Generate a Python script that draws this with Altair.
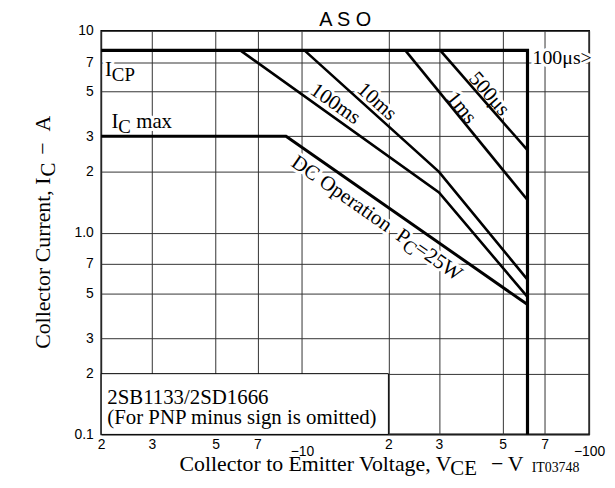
import altair as alt
import pandas as pd

# ---------------- data ----------------
# Boundary lines
V_ICP = [2, 61, 61]
I_ICP = [8, 8, 0.1]
V_DC = [2, 8.8, 61]
I_DC = [3, 3, 0.44]
# Pulse curves
V_100MS = [6.1, 30, 61]
I_100MS = [8, 1.58, 0.48]
V_10MS = [10.2, 30, 61]
I_10MS = [8, 2.0, 0.585]
V_1MS = [22.9, 61]
I_1MS = [8, 1.45]
V_500US = [30.3, 61]
I_500US = [8, 2.56]

X_TICKS = [2, 3, 5, 7, 10, 20, 30, 50, 70, 100]
X_TICK_LABELS = ["2", "3", "5", "7", "−10", "2", "3", "5", "7", "−100"]
Y_TICKS = [0.1, 0.2, 0.3, 0.5, 0.7, 1, 2, 3, 5, 7, 10]
Y_TICK_LABELS = ["0.1", "2", "3", "5", "7", "1.0", "2", "3", "5", "7", "10"]

# curve labels (rotated, centred)
CURVE_LABELS = ["100ms", "10ms", "1ms", "500μs"]
CURVE_LABEL_V = [13.06, 18.2, 35.9, 44.8]
CURVE_LABEL_I = [4.33, 4.45, 4.15, 4.85]
CURVE_LABEL_ANGLE = [35, 42, 51, 49]

# box
BOX_V = [2]
BOX_V2 = [20]
BOX_I = [0.1]
BOX_I2 = [0.2]

SERIF = "Liberation Serif"
SANS = "Liberation Sans"
FS = 21
NB = "\u00a0"

# ---------------- build tables ----------------
rows = []
for name, vs, cs, w in [
    ("ICP", V_ICP, I_ICP, 3.2),
    ("DC", V_DC, I_DC, 3.0),
    ("100ms", V_100MS, I_100MS, 2.6),
    ("10ms", V_10MS, I_10MS, 2.6),
    ("1ms", V_1MS, I_1MS, 2.6),
    ("500us", V_500US, I_500US, 2.6),
]:
    for k, (v, c) in enumerate(zip(vs, cs)):
        rows.append({"curve": name, "ord": k, "V": v, "I": c, "w": w})
lines_df = pd.DataFrame(rows)

def label_expr(vals, labs, lower=()):
    e = "''"
    for v, l in reversed(list(zip(vals, labs))):
        lab = f"['', '{l}']" if v in lower else f"'{l}'"
        e = f"datum.value == {v} ? {lab} : ({e})"
    return e

xscale = alt.Scale(type="log", domain=[2, 100], nice=False)
yscale = alt.Scale(type="log", domain=[0.1, 10], nice=False)

xaxis = alt.Axis(
    values=X_TICKS, labelExpr=label_expr(X_TICKS, X_TICK_LABELS, lower=(10, 100)), title=None,
    grid=True, gridColor="#333333", gridWidth=1, gridOpacity=1,
    ticks=False, domain=False, labelOverlap=False, labelFlush=False,
    labelPadding=3, labelLineHeight=7, labelFont=SANS, labelFontSize=14, labelColor="black",
)
yaxis = alt.Axis(
    values=Y_TICKS, labelExpr=label_expr(Y_TICKS, Y_TICK_LABELS), title=None,
    grid=True, gridColor="#333333", gridWidth=1, gridOpacity=1,
    ticks=False, domain=False, labelOverlap=False, labelPadding=8,
    labelFont=SANS, labelFontSize=14, labelColor="black",
)

X = alt.X("V:Q", scale=xscale, axis=xaxis)
Y = alt.Y("I:Q", scale=yscale, axis=yaxis)

lines = alt.Chart(lines_df).mark_line(color="black", strokeJoin="miter", strokeCap="butt").encode(
    x=X, y=Y, detail="curve:N", order="ord:Q",
    strokeWidth=alt.StrokeWidth("w:Q", scale=None, legend=None),
)

box = alt.Chart(pd.DataFrame({"V": BOX_V, "V2": BOX_V2, "I": BOX_I, "I2": BOX_I2})).mark_rect(
    fill="white", stroke="black", strokeWidth=1
).encode(x=X, x2="V2:Q", y=Y, y2="I2:Q")

cl_df = pd.DataFrame({"t": CURVE_LABELS, "V": CURVE_LABEL_V, "I": CURVE_LABEL_I, "a": CURVE_LABEL_ANGLE})

def text_layers(df, halo=True, **kw):
    enc = dict(x=X, y=Y, text="t:N")
    if "a" in df.columns:
        enc["angle"] = alt.Angle("a:Q", scale=None)
    base = alt.Chart(df)
    out = []
    if halo:
        out.append(base.mark_text(stroke="white", strokeWidth=6, strokeJoin="round", fill="white", **kw).encode(**enc))
    top = base.mark_text(color="black", **kw).encode(**enc)
    return out, top

halos = []
tops = []

def add(df, **kw):
    h, t = text_layers(df, **kw)
    halos.extend(h)
    tops.append(t)

add(cl_df, font=SERIF, fontSize=FS, align="center", baseline="middle")

# DC Operation  P_C=25W (rotated, pieces along the line)
DC_V, DC_I, DC_A = 17.8, 1.2, 35
add(pd.DataFrame({"t": ["DC Operation" + NB + NB + "P"], "V": [DC_V], "I": [DC_I], "a": [DC_A]}),
    font=SERIF, fontSize=FS, align="left", baseline="middle", dx=-99, dy=0)
add(pd.DataFrame({"t": ["C"], "V": [DC_V], "I": [DC_I], "a": [DC_A]}),
    font=SERIF, fontSize=FS - 2, align="left", baseline="middle", dx=41, dy=5)
add(pd.DataFrame({"t": ["=25W"], "V": [DC_V], "I": [DC_I], "a": [DC_A]}),
    font=SERIF, fontSize=FS, align="left", baseline="middle", dx=53, dy=0)

# I_CP
add(pd.DataFrame({"t": ["I"], "V": [2.06], "I": [5.94]}), font=SERIF, fontSize=FS, align="left", baseline="alphabetic")
add(pd.DataFrame({"t": ["CP"], "V": [2.06], "I": [5.94]}), font=SERIF, fontSize=FS - 2, align="left", baseline="alphabetic", dx=7, dy=5)
# I_C max
add(pd.DataFrame({"t": ["I"], "V": [2.17], "I": [3.30]}), font=SERIF, fontSize=FS, align="left", baseline="alphabetic")
add(pd.DataFrame({"t": ["C"], "V": [2.17], "I": [3.30]}), font=SERIF, fontSize=FS - 2, align="left", baseline="alphabetic", dx=7, dy=5)
add(pd.DataFrame({"t": ["max"], "V": [2.17], "I": [3.30]}), font=SERIF, fontSize=FS, align="left", baseline="alphabetic", dx=25)
# 100us>
add(pd.DataFrame({"t": ["100μs>"], "V": [63.5], "I": [6.81]}), font=SERIF, fontSize=FS - 1, align="left", baseline="alphabetic")
# box text
add(pd.DataFrame({"t": ["2SB1133/2SD1666", "(For PNP minus sign is omitted)"], "V": [2.1, 2.1], "I": [0.142, 0.112]}),
    halo=False, font=SERIF, fontSize=FS, align="left", baseline="alphabetic")

# ---------------- titles (outside the plot) ----------------
one = pd.DataFrame({"k": [0]})

def free_text(t, x, y, **kw):
    return alt.Chart(one).mark_text(text=t, color="black", **kw).encode(x=alt.value(x), y=alt.value(y))

TS = 22
titles = [
    free_text("A S O", 246, -5, font=SANS, fontSize=20, align="center", baseline="alphabetic"),
    free_text("Collector to Emitter Voltage, V", 79, 444, font=SERIF, fontSize=TS, align="left", baseline="alphabetic"),
    free_text("CE", 352, 448, font=SERIF, fontSize=TS - 1, align="left", baseline="alphabetic"),
    free_text("−", 393, 444, font=SERIF, fontSize=TS, align="left", baseline="alphabetic"),
    free_text("V", 410, 444, font=SERIF, fontSize=TS, align="left", baseline="alphabetic"),
    free_text("IT03748", 434, 445, font=SERIF, fontSize=14, align="left", baseline="alphabetic"),
    free_text("Collector Current, I", -52, 148, font=SERIF, fontSize=TS, align="right", baseline="alphabetic", angle=270),
    free_text("C", -47, 147, font=SERIF, fontSize=TS - 1, align="left", baseline="alphabetic", angle=270),
    free_text("−" + NB + NB + "A", -52, 125, font=SERIF, fontSize=TS, align="left", baseline="alphabetic", angle=270),
]

chart = alt.layer(box, *halos, lines, *tops, *titles).properties(
    width=492, height=407,
    autosize=alt.AutoSizeParams(type="none"),
    padding={"left": 94, "top": 21, "right": 18, "bottom": 44},
).configure_view(stroke="black", strokeWidth=1.6)

chart.save("out.html", embed_options={"renderer": "svg", "actions": False})
